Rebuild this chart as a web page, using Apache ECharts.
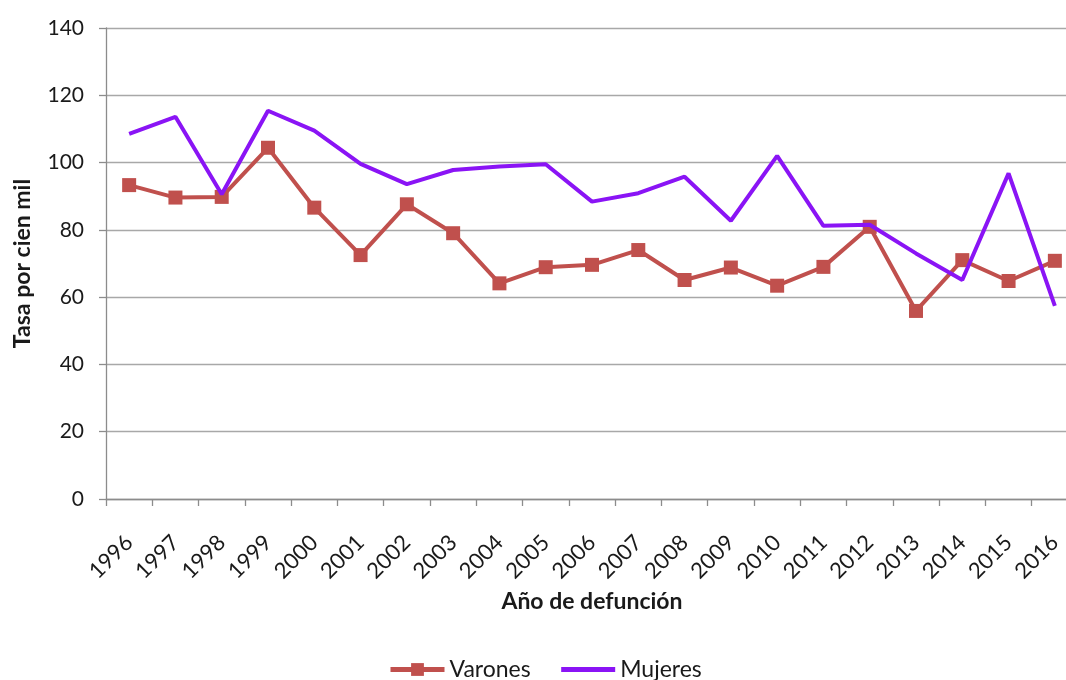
<!DOCTYPE html>
<html>
<head>
<meta charset="utf-8">
<script src="https://cdn.jsdelivr.net/npm/echarts@6/dist/echarts.min.js"></script>
<style>
html,body{margin:0;padding:0;background:#fff;}
#chart{width:1066px;height:680px;}
</style>
</head>
<body>
<div id="chart"></div>
<script>
const years = ['1996','1997','1998','1999','2000','2001','2002','2003','2004','2005','2006','2007','2008','2009','2010','2011','2012','2013','2014','2015','2016'];
const varones = [93.3, 89.6, 89.8, 104.4, 86.6, 72.5, 87.6, 79.0, 64.1, 68.9, 69.6, 74.0, 65.1, 68.8, 63.4, 69.0, 80.9, 55.9, 71.0, 64.8, 70.8];
const mujeres = [108.5, 113.6, 90.6, 115.4, 109.5, 99.6, 93.6, 97.8, 98.8, 99.5, 88.4, 90.9, 95.8, 82.7, 102.0, 81.2, 81.5, 73.0, 65.1, 96.8, 57.4];
const yTicks = [0, 20, 40, 60, 80, 100, 120, 140];

const FONT = 'Lato, "Open Sans", sans-serif';
const chart = echarts.init(document.getElementById('chart'));
chart.setOption({
  animation: false,
  backgroundColor: '#ffffff',
  textStyle: { fontFamily: FONT },
  grid: { left: 106, top: 28, width: 972, height: 471, containLabel: false, outerBoundsMode: 'none' },
  xAxis: {
    type: 'category',
    data: years,
    boundaryGap: true,
    name: 'Año de defunción',
    nameLocation: 'middle',
    nameGap: 89,
    nameTextStyle: { fontSize: 23, fontWeight: 'bold', color: '#1a1a1a', fontFamily: FONT },
    axisLine: { lineStyle: { color: '#8c8c8c', width: 1.3 } },
    axisTick: { show: true, length: 7, alignWithLabel: false, lineStyle: { color: '#8c8c8c', width: 1.3 } },
    axisLabel: { rotate: 45, fontSize: 22, color: '#1a1a1a', margin: 40, interval: 0, fontFamily: FONT },
    splitLine: { show: false }
  },
  yAxis: {
    type: 'value',
    min: 0,
    max: 140,
    interval: 20,
    name: 'Tasa por cien mil',
    nameLocation: 'middle',
    nameGap: 72,
    nameRotate: 90,
    nameTextStyle: { fontSize: 23, fontWeight: 'bold', color: '#1a1a1a', fontFamily: FONT },
    axisLine: { show: true, lineStyle: { color: '#8c8c8c', width: 1.3 } },
    axisTick: { show: true, length: 7, inside: false, lineStyle: { color: '#8c8c8c', width: 1.3 } },
    axisLabel: {
      fontSize: 21, color: '#1a1a1a', margin: 22, fontFamily: FONT,
      formatter: v => yTicks.includes(v) ? String(v) : ''
    },
    splitLine: { show: true, lineStyle: { color: '#a8a8a8', width: 1.3 } }
  },
  legend: {
    left: 388,
    top: 658,
    padding: 0,
    itemWidth: 54,
    itemHeight: 16,
    itemGap: 28,
    lineStyle: { width: 5 },
    textStyle: { fontSize: 23, color: '#1a1a1a', fontFamily: FONT },
    data: [
      { name: 'Varones' },
      { name: 'Mujeres', itemStyle: { opacity: 0 } }
    ]
  },
  series: [
    {
      name: 'Varones',
      type: 'line',
      data: varones,
      symbol: 'rect',
      symbolSize: 14,
      lineStyle: { color: '#C0504D', width: 4 },
      itemStyle: { color: '#C0504D' },
      z: 3
    },
    {
      name: 'Mujeres',
      type: 'line',
      data: mujeres,
      symbol: 'none',
      showSymbol: false,
      lineStyle: { color: '#8A14F5', width: 4 },
      itemStyle: { color: '#8A14F5' },
      z: 4
    }
  ]
});
</script>
</body>
</html>
